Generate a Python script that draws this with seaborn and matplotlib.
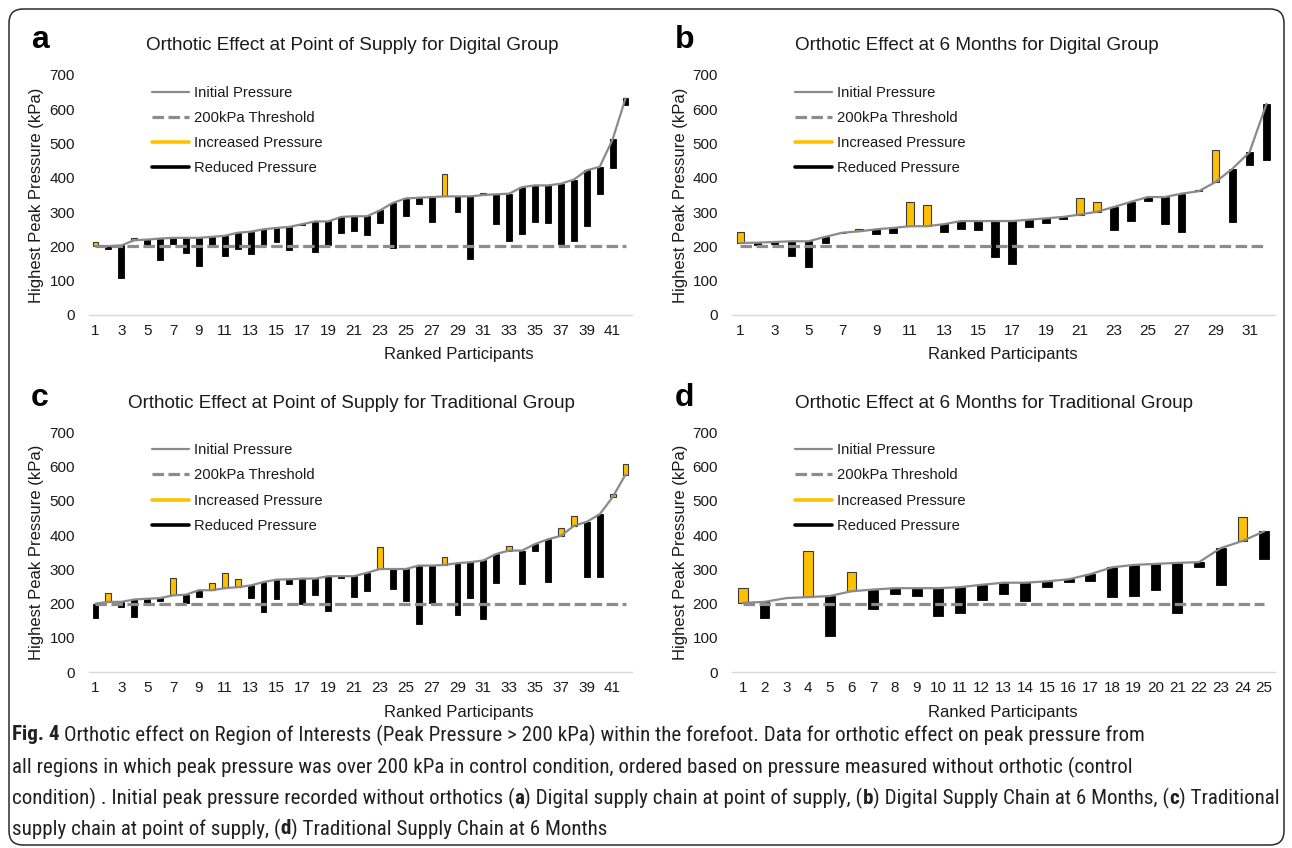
import numpy as np
import matplotlib
matplotlib.use("Agg")
import matplotlib.pyplot as plt
import seaborn as sns
from matplotlib.lines import Line2D
from matplotlib.patches import FancyBboxPatch
from matplotlib.transforms import IdentityTransform
from matplotlib import font_manager

# ---------------- data (kPa) ----------------
titles = [
    "Orthotic Effect at Point of Supply for Digital Group",
    "Orthotic Effect at 6 Months for Digital Group",
    "Orthotic Effect at Point of Supply for Traditional Group",
    "Orthotic Effect at 6 Months for Traditional Group",
]
panel_letters = ["a", "b", "c", "d"]
legend_labels = ["Initial Pressure", "200kPa Threshold", "Increased Pressure", "Reduced Pressure"]
y_ticks = [0, 100, 200, 300, 400, 500, 600, 700]
threshold = 200

init_a = [201, 201, 203, 218, 220, 223, 225, 225, 225, 228, 231, 240, 243, 250, 254, 257, 265, 273, 273, 286,
          288, 288, 305, 327, 340, 342, 344, 346, 346, 346, 350, 352, 354, 373, 378, 378, 383, 395, 422, 432,
          512, 632]
post_a = [213, 193, 108, 224, 197, 160, 207, 180, 144, 203, 173, 192, 177, 203, 212, 189, 262, 184, 205, 238,
          245, 233, 267, 194, 288, 325, 270, 410, 301, 163, 356, 264, 215, 236, 272, 267, 206, 215, 259, 352,
          430, 612]

init_b = [210, 211, 213, 215, 215, 228, 240, 244, 250, 254, 259, 259, 265, 274, 274, 274, 274, 278, 282, 286,
          293, 301, 315, 330, 344, 344, 354, 361, 388, 427, 475, 616]
post_b = [242, 204, 206, 173, 141, 211, 238, 252, 235, 238, 330, 320, 241, 252, 247, 170, 148, 257, 267, 280,
          340, 330, 247, 274, 333, 264, 241, 366, 480, 270, 438, 453]

init_c = [200, 205, 205, 212, 214, 216, 224, 226, 239, 239, 245, 248, 253, 263, 270, 271, 273, 273, 280, 280,
          280, 290, 301, 301, 301, 311, 311, 313, 318, 321, 326, 345, 355, 355, 374, 388, 398, 427, 439, 461,
          511, 577]
post_c = [158, 231, 190, 161, 200, 207, 275, 203, 219, 260, 289, 272, 216, 174, 213, 256, 200, 226, 178, 276,
          219, 236, 366, 242, 207, 139, 202, 337, 168, 216, 155, 261, 369, 258, 355, 264, 420, 456, 277, 277,
          519, 609]

init_d = [202, 205, 216, 219, 222, 236, 241, 245, 245, 245, 248, 255, 261, 261, 265, 271, 286, 306, 313, 316,
          319, 321, 362, 383, 411]
post_d = [245, 158, 215, 353, 106, 292, 184, 229, 222, 164, 171, 210, 229, 207, 248, 264, 267, 219, 222, 239,
          171, 307, 253, 452, 330]

inits = [init_a, init_b, init_c, init_d]
posts = [post_a, post_b, post_c, post_d]
tick_steps = [2, 2, 2, 1]

caption_lines = [
    [("Fig. 4", True), (" Orthotic effect on Region of Interests (Peak Pressure > 200 kPa) within the forefoot. "
                        "Data for orthotic effect on peak pressure from", False)],
    [("all regions in which peak pressure was over 200 kPa in control condition, ordered based on pressure "
      "measured without orthotic (control", False)],
    [("condition) . Initial peak pressure recorded without orthotics (", False), ("a", True),
     (") Digital supply chain at point of supply, (", False), ("b", True),
     (") Digital Supply Chain at 6 Months, (", False), ("c", True), (") Traditional", False)],
    [("supply chain at point of supply, (", False), ("d", True),
     (") Traditional Supply Chain at 6 Months", False)],
]

# ---------------- style ----------------
sns.set_theme(style="white")
plt.rcParams["font.family"] = ["Liberation Sans", "DejaVu Sans"]

YELLOW = "#FFC000"
BLACK = "#000000"
GREY_LINE = "#8a8a8a"
GREY_DASH = "#8c8c8c"
TEXT = "#1a1a1a"
DASH = (0, (3.6, 1.4))

W, H = 1292, 848
fig = plt.figure(figsize=(W / 100, H / 100), dpi=100)
fig.patch.set_facecolor("white")

# panel layout in pixels
layout = [
    dict(left=89, right=632, top=75, bottom=315, title_x=146, title_y=46, letter_x=31, base=48,
         ylab_x=37, xlab_x=459, xlab_y=355),
    dict(left=732, right=1275, top=75, bottom=315, title_x=795, title_y=46, letter_x=675, base=48,
         ylab_x=681, xlab_x=1003, xlab_y=355),
    dict(left=89, right=632, top=432.5, bottom=672, title_x=128, title_y=404, letter_x=31, base=406,
         ylab_x=37, xlab_x=459, xlab_y=713),
    dict(left=732, right=1275, top=432.5, bottom=672, title_x=795, title_y=404, letter_x=675, base=406,
         ylab_x=681, xlab_x=1003, xlab_y=713),
]

for i, L in enumerate(layout):
    init = np.array(inits[i], dtype=float)
    post = np.array(posts[i], dtype=float)
    n = len(init)
    x = np.arange(1, n + 1)
    ax = fig.add_axes([L["left"] / W, 1 - L["bottom"] / H,
                       (L["right"] - L["left"]) / W, (L["bottom"] - L["top"]) / H])
    diff = post - init
    up = diff > 0
    ax.bar(x[up], diff[up], bottom=init[up], width=0.45, color=YELLOW,
           edgecolor="#3a3a3a", linewidth=0.8, zorder=2)
    ax.bar(x[~up], diff[~up], bottom=init[~up], width=0.45, color=BLACK,
           edgecolor=BLACK, linewidth=0.6, zorder=2)
    sns.lineplot(x=x, y=np.full(n, threshold), ax=ax, color=GREY_DASH, linewidth=2.3,
                 linestyle=DASH, zorder=3)
    sns.lineplot(x=x, y=init, ax=ax, color=GREY_LINE, linewidth=1.6, zorder=4)

    ax.set_xlim(0.5, n + 0.5)
    ax.set_ylim(0, 700)
    ax.set_yticks(y_ticks)
    ax.set_yticklabels([str(v) for v in y_ticks])
    shown = x[::tick_steps[i]]
    ax.set_xticks(shown)
    ax.set_xticklabels([str(v) for v in shown])
    ax.tick_params(axis="both", length=0, labelsize=11, colors=TEXT)
    ax.tick_params(axis="y", pad=10)
    ax.tick_params(axis="x", pad=6.5)
    ax.set_xlabel("")
    ax.set_ylabel("")
    ax.grid(False)
    sns.despine(ax=ax, left=True)
    ax.spines["bottom"].set_color("#d9d9d9")
    ax.spines["bottom"].set_linewidth(1.0)
    ax.set_facecolor("white")

    handles = [
        Line2D([0], [0], color=GREY_LINE, lw=1.6),
        Line2D([0], [0], color=GREY_DASH, lw=2.3, linestyle=DASH),
        Line2D([0], [0], color=YELLOW, lw=2.6),
        Line2D([0], [0], color=BLACK, lw=2.6),
    ]
    ax.legend(handles, legend_labels, loc="upper left", bbox_to_anchor=(0.116, 0.955),
              frameon=False, fontsize=10.6, handlelength=2.5, handletextpad=0.35,
              labelspacing=0.76, borderpad=0, borderaxespad=0, labelcolor=TEXT)

    fig.text(L["title_x"] / W, 1 - L["title_y"] / H, titles[i], ha="left", va="center",
             fontsize=13.6, color=TEXT)
    fig.text(L["letter_x"] / W, 1 - L["base"] / H, panel_letters[i], ha="left", va="baseline",
             fontsize=23, fontweight="bold", color="black")
    fig.text(L["ylab_x"] / W, 1 - (L["top"] + L["bottom"]) / 2 / H, "Highest Peak Pressure (kPa)",
             rotation=90, ha="center", va="center", fontsize=12, color=TEXT)
    fig.text(L["xlab_x"] / W, 1 - L["xlab_y"] / H, "Ranked Participants", ha="center", va="center",
             fontsize=12, color=TEXT)

# ---------------- outer rounded border ----------------
border = FancyBboxPatch((9, 3), 1275, 836, boxstyle="round,pad=0,rounding_size=14",
                        transform=IdentityTransform(), fill=False, edgecolor="#2b2b2b",
                        linewidth=1.1)
fig.patches.append(border)

# ---------------- caption ----------------
names = {f.name for f in font_manager.fontManager.ttflist}
cap_family, cap_stretch = ["DejaVu Sans"], "condensed"
for cand in ["Liberation Sans Narrow", "Arial Narrow", "Roboto Condensed", "Open Sans Condensed",
             "Noto Sans Condensed"]:
    if cand in names:
        cap_family, cap_stretch = [cand, "DejaVu Sans"], "normal"
        break

renderer = fig.canvas.get_renderer()


def measure(s, size, bold):
    t = fig.text(0, 0, s, fontsize=size, family=cap_family, fontstretch=cap_stretch,
                 fontweight="bold" if bold else "normal")
    w = t.get_window_extent(renderer).width
    t.remove()
    return w


def line_width(segs, size):
    sp = measure("x x", size, False) - measure("xx", size, False)
    total = 0.0
    for txt, b in segs:
        if txt.startswith(" "):
            total += sp
        total += measure(txt.strip(), size, b)
        if txt.endswith(" "):
            total += sp
    return total, sp


ref_size = 10.0
w3, _ = line_width(caption_lines[2], ref_size)
cap_size = ref_size * (1274 - 12) / w3

line_y = [735, 767, 798, 829]
for segs, yy in zip(caption_lines, line_y):
    _, sp = line_width(segs, cap_size)
    xx = 12.0
    for txt, b in segs:
        if txt.startswith(" "):
            xx += sp
        core = txt.strip()
        t = fig.text(xx / W, 1 - yy / H, core, ha="left", va="center", fontsize=cap_size,
                     family=cap_family, fontstretch=cap_stretch,
                     fontweight="bold" if b else "normal", color="#231f20")
        xx += t.get_window_extent(renderer).width
        if txt.endswith(" "):
            xx += sp

fig.savefig("out.png", dpi=100, facecolor="white")
